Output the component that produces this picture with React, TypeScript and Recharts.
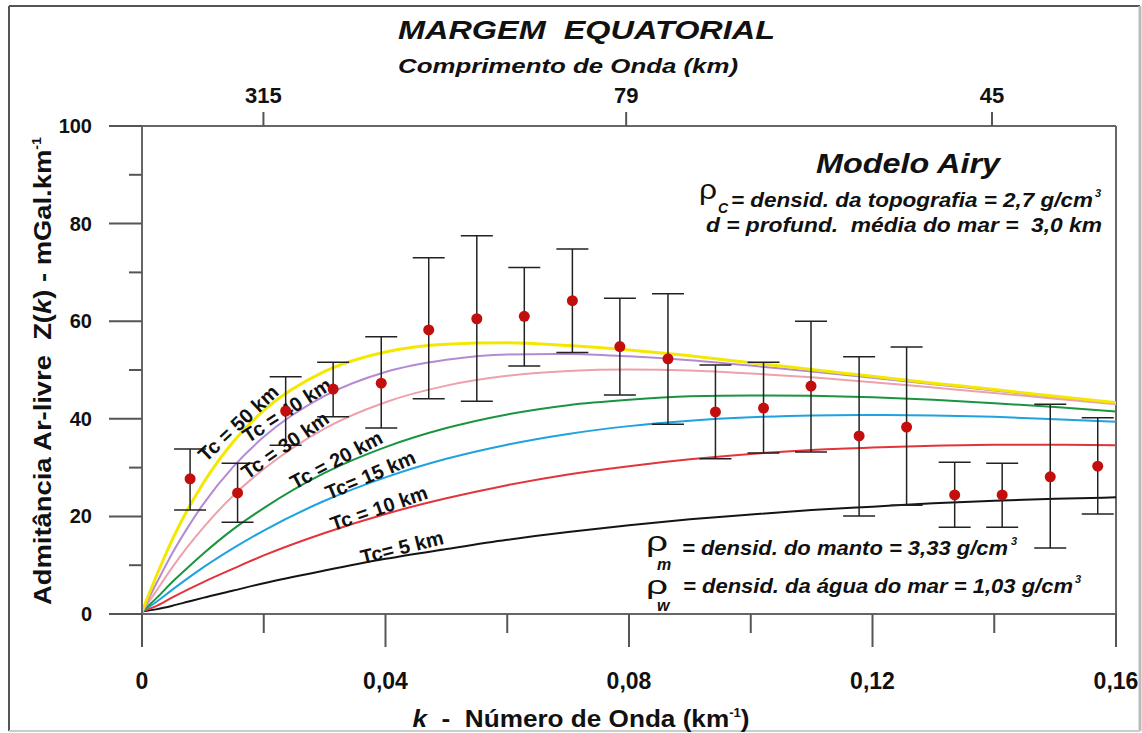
import React from 'react';
import {
  ComposedChart,
  Line,
  Scatter,
  ErrorBar,
  XAxis,
  YAxis,
  ReferenceLine,
  ReferenceDot,
} from 'recharts';

// wavenumber samples for the model curves (km^-1)
const kSamples = [0, 0.0025, 0.005, 0.0075, 0.01, 0.015, 0.02, 0.03, 0.04, 0.05, 0.06, 0.07, 0.08, 0.09, 0.1, 0.11, 0.12, 0.13, 0.14, 0.15, 0.16];

// Airy model admittance (mGal/km), one array per crustal thickness
const tc50 = [0.5, 8.2, 15.3, 21.4, 26.7, 35.3, 41.7, 49.7, 53.7, 55.3, 55.6, 55.0, 54.1, 52.9, 51.5, 50.1, 48.7, 47.3, 46.0, 44.6, 43.3];
const tc40 = [0.5, 6.6, 12.5, 17.7, 22.4, 30.2, 36.3, 44.7, 49.6, 52.1, 53.2, 53.3, 52.8, 52.0, 50.9, 49.7, 48.4, 47.1, 45.8, 44.5, 43.2];
const tc30 = [0.5, 5.0, 9.6, 13.8, 17.6, 24.3, 29.7, 38.0, 43.4, 46.8, 48.8, 49.8, 50.1, 49.9, 49.3, 48.5, 47.5, 46.4, 45.3, 44.1, 43.0];
const tc20 = [0.5, 3.4, 6.6, 9.5, 12.3, 17.4, 21.7, 28.9, 34.2, 38.1, 40.9, 42.8, 43.9, 44.6, 44.8, 44.7, 44.4, 43.9, 43.2, 42.4, 41.5];
const tc15 = [0.5, 2.6, 5.0, 7.3, 9.5, 13.5, 17.1, 23.2, 28.0, 31.8, 34.7, 36.9, 38.5, 39.6, 40.3, 40.7, 40.8, 40.7, 40.4, 39.9, 39.4];
const tc10 = [0.5, 1.7, 3.4, 5.0, 6.5, 9.3, 12.0, 16.6, 20.5, 23.7, 26.4, 28.6, 30.3, 31.7, 32.8, 33.6, 34.1, 34.5, 34.7, 34.7, 34.6];
const tc5 = [0.5, 1.0, 1.7, 2.5, 3.3, 4.8, 6.3, 8.9, 11.3, 13.3, 15.2, 16.8, 18.2, 19.4, 20.4, 21.3, 22.0, 22.7, 23.2, 23.6, 23.9];

// observed admittance with error bars
const obsK = [0.0079, 0.0157, 0.0236, 0.0314, 0.0393, 0.0471, 0.055, 0.0628, 0.0707, 0.0785, 0.0864, 0.0942, 0.1021, 0.1099, 0.1178, 0.1256, 0.1335, 0.1413, 0.1492, 0.157];
const obsZ = [27.7, 24.8, 41.6, 46.1, 47.3, 58.2, 60.5, 61.0, 64.2, 54.8, 52.3, 41.4, 42.2, 46.7, 36.5, 38.3, 24.4, 24.4, 28.1, 30.3];
const obsHigh = [33.8, 30.9, 48.6, 51.6, 56.8, 73.0, 77.5, 71.0, 74.8, 64.7, 65.6, 51.0, 51.6, 60.0, 52.7, 54.7, 31.1, 30.9, 43.0, 40.2];
const obsLow = [21.3, 18.8, 34.6, 40.4, 38.1, 44.1, 43.6, 50.8, 53.6, 44.9, 38.9, 31.8, 33.0, 33.2, 20.1, 22.3, 17.8, 17.8, 13.5, 20.5];

const xTicks = [0, 0.02, 0.04, 0.06, 0.08, 0.1, 0.12, 0.14, 0.16];
const yTicks = [0, 10, 20, 30, 40, 50, 60, 70, 80, 90, 100];
const wavelengths = [315, 79, 45];

const tcLabels = ['Tc = 50 km', 'Tc = 40 km', 'Tc = 30 km', 'Tc = 20 km', 'Tc= 15 km', 'Tc = 10 km', 'Tc= 5 km'];
const labelK = [0.0158, 0.0238, 0.0235, 0.0319, 0.0375, 0.0389, 0.0427];
const labelZ = [39.1, 41.8, 34.6, 31.6, 28.5, 21.7, 13.7];
const labelAngle = [-43, -33, -35, -28, -23, -19, -14];

const curves = [
  { key: 'tc5', values: tc5, color: '#141414', width: 2 },
  { key: 'tc10', values: tc10, color: '#e2343a', width: 2 },
  { key: 'tc15', values: tc15, color: '#1ea2e0', width: 2 },
  { key: 'tc20', values: tc20, color: '#1b9440', width: 2 },
  { key: 'tc30', values: tc30, color: '#eda2ab', width: 2 },
  { key: 'tc40', values: tc40, color: '#b48ad2', width: 2 },
  { key: 'tc50', values: tc50, color: '#f4e800', width: 3 },
];

const curveRows = kSamples.map((k, i) => {
  const row: Record<string, number> = { k };
  curves.forEach((c) => {
    row[c.key] = c.values[i];
  });
  return row;
});

const obsRows = obsK.map((k, i) => ({
  k,
  z: obsZ[i],
  err: [obsZ[i] - obsLow[i], obsHigh[i] - obsZ[i]],
}));

const FONT = '"Liberation Sans", Arial, Helvetica, sans-serif';
const AXIS = '#666';
const TICK = '#555';

function fmtK(v: number) {
  return v === 0 ? '0' : v.toFixed(2).replace('.', ',');
}

function BottomTick(props: any) {
  const { x, y, payload } = props;
  const major = Math.round(payload.value * 100) % 4 === 0;
  return (
    <g>
      <line x1={x} y1={y} x2={x} y2={y + (major ? 33 : 19)} stroke={TICK} strokeWidth={2} />
      {major && (
        <text x={x} y={y + 75} textAnchor="middle" fontFamily={FONT} fontWeight="bold" fontSize={23} fill="#111">
          {fmtK(payload.value)}
        </text>
      )}
    </g>
  );
}

function LeftTick(props: any) {
  const { x, y, payload } = props;
  const major = payload.value % 20 === 0;
  return (
    <g>
      <line x1={x - (major ? 33 : 13)} y1={y} x2={x} y2={y} stroke={TICK} strokeWidth={2} />
      {major && (
        <text x={x - 50} y={y + 7} textAnchor="end" fontFamily={FONT} fontWeight="bold" fontSize={20} fill="#111">
          {payload.value}
        </text>
      )}
    </g>
  );
}

function TopTick(props: any) {
  const { x, y, payload } = props;
  return (
    <g>
      <line x1={x} y1={y - 14} x2={x} y2={y} stroke={TICK} strokeWidth={2} />
      <text x={x} y={y - 23} textAnchor="middle" fontFamily={FONT} fontWeight="bold" fontSize={22} fill="#111">
        {Math.round((2 * Math.PI) / payload.value)}
      </text>
    </g>
  );
}

function Dot(props: any) {
  return <circle cx={props.cx} cy={props.cy} r={5.5} fill="#c40d0d" />;
}

const bi = { fontFamily: FONT, fontWeight: 'bold' as const, fontStyle: 'italic' as const, fill: '#111' };

export default function App() {
  return (
    <div style={{ position: 'absolute', left: 0, top: 0, width: 1142, height: 733, background: '#fff' }}>
      <ComposedChart
        width={1142}
        height={733}
        data={curveRows}
        margin={{ top: 96, right: 26, bottom: 79, left: 82 }}
      >
        <XAxis
          dataKey="k"
          type="number"
          domain={[0, 0.16]}
          ticks={xTicks}
          interval={0}
          allowDataOverflow
          height={40}
          tickSize={0}
          tickMargin={0}
          tickLine={false}
          axisLine={{ stroke: AXIS, strokeWidth: 2 }}
          tick={<BottomTick />}
        />
        <XAxis
          xAxisId="top"
          dataKey="k"
          orientation="top"
          type="number"
          domain={[0, 0.16]}
          ticks={wavelengths.map((w) => (2 * Math.PI) / w)}
          interval={0}
          allowDataOverflow
          height={30}
          tickSize={0}
          tickMargin={0}
          tickLine={false}
          axisLine={{ stroke: AXIS, strokeWidth: 2 }}
          tick={<TopTick />}
        />
        <YAxis
          type="number"
          domain={[0, 100]}
          ticks={yTicks}
          interval={0}
          allowDataOverflow
          width={60}
          tickSize={0}
          tickMargin={0}
          tickLine={false}
          axisLine={{ stroke: AXIS, strokeWidth: 2 }}
          tick={<LeftTick />}
        />
        <ReferenceLine x={0.16} stroke={AXIS} strokeWidth={2} />
        {/* invisible series so the wavelength axis shares the wavenumber scale */}
        <Line
          xAxisId="top"
          dataKey="tc5"
          stroke="none"
          dot={false}
          activeDot={false}
          legendType="none"
          isAnimationActive={false}
        />
        {curves.map((c) => (
          <Line
            key={c.key}
            dataKey={c.key}
            type="monotone"
            stroke={c.color}
            strokeWidth={c.width}
            dot={false}
            activeDot={false}
            isAnimationActive={false}
          />
        ))}
        {tcLabels.map((t, i) => (
          <ReferenceDot
            key={t}
            x={labelK[i]}
            y={labelZ[i]}
            r={0}
            shape={(p: any) => (
              <text
                transform={`translate(${p.cx},${p.cy}) rotate(${labelAngle[i]})`}
                textAnchor="middle"
                dominantBaseline="central"
                fontFamily={FONT}
                fontWeight="bold"
                fontSize={20}
                fill="#111"
              >
                {t}
              </text>
            )}
          />
        ))}
        <Scatter data={obsRows} dataKey="z" shape={<Dot />} isAnimationActive={false}>
          <ErrorBar dataKey="err" direction="y" width={16} stroke="#222" strokeWidth={1.5} />
        </Scatter>
      </ComposedChart>

      <svg width={1142} height={733} style={{ position: 'absolute', left: 0, top: 0, pointerEvents: 'none' }}>
        {/* outer frame */}
        <line x1={9} y1={6} x2={1140} y2={6} stroke="#555" strokeWidth={2} />
        <line x1={9} y1={6} x2={9} y2={731} stroke="#555" strokeWidth={2} />
        <line x1={1140} y1={6} x2={1140} y2={731} stroke="#bbb" strokeWidth={3} />
        <line x1={9} y1={731} x2={1140} y2={731} stroke="#ccc" strokeWidth={2} />

        <text x={398} y={39} fontSize={25} textLength={377} lengthAdjust="spacingAndGlyphs" {...bi}>
          MARGEM{'\u00a0\u00a0'}EQUATORIAL
        </text>
        <text x={398} y={73} fontSize={20} textLength={340} lengthAdjust="spacingAndGlyphs" {...bi}>
          Comprimento de Onda (km)
        </text>

        <text x={816} y={173} fontSize={28} textLength={184} lengthAdjust="spacingAndGlyphs" {...bi}>
          Modelo Airy
        </text>
        <text x={699} y={199} fontSize={28} textLength={18} lengthAdjust="spacingAndGlyphs" fontFamily={FONT} fill="#111">ρ</text>
        <text x={718} y={213} fontSize={14} {...bi}>C</text>
        <text x={731} y={207} fontSize={20} textLength={362} lengthAdjust="spacingAndGlyphs" {...bi}>
          = densid. da topografia = 2,7 g/cm
        </text>
        <text x={1095} y={197} fontSize={11} {...bi}>3</text>
        <text x={706} y={232} fontSize={20} textLength={396} lengthAdjust="spacingAndGlyphs" {...bi}>
          d = profund.{'\u00a0'} média do mar ={'\u00a0'} 3,0 km
        </text>

        <text x={646} y={551} fontSize={28} textLength={22} lengthAdjust="spacingAndGlyphs" fontFamily={FONT} fill="#111">ρ</text>
        <text x={657} y={570} fontSize={16} {...bi}>m</text>
        <text x={682} y={555} fontSize={20} textLength={326} lengthAdjust="spacingAndGlyphs" {...bi}>
          = densid. do manto = 3,33 g/cm
        </text>
        <text x={1011} y={545} fontSize={11} {...bi}>3</text>
        <text x={646} y={594} fontSize={26} textLength={22} lengthAdjust="spacingAndGlyphs" fontFamily={FONT} fill="#111">ρ</text>
        <text x={657} y={611} fontSize={16} {...bi}>w</text>
        <text x={683} y={593} fontSize={20} textLength={390} lengthAdjust="spacingAndGlyphs" {...bi}>
          = densid. da água do mar = 1,03 g/cm
        </text>
        <text x={1075} y={583} fontSize={11} {...bi}>3</text>

        {/* y axis title */}
        <text
          transform="translate(51,371) rotate(-90)"
          textAnchor="middle"
          fontFamily={FONT}
          fontWeight="bold"
          fontSize={23}
          fill="#111"
          textLength={468}
          lengthAdjust="spacingAndGlyphs"
        >
          Admitância Ar-livre{'\u00a0\u00a0'}Z(<tspan fontStyle="italic">k</tspan>) - mGal.km
          <tspan fontSize={12} dy={-10}>-1</tspan>
        </text>

        {/* x axis title */}
        <text
          x={581}
          y={727}
          textAnchor="middle"
          fontFamily={FONT}
          fontWeight="bold"
          fontSize={24}
          fill="#111"
          textLength={337}
          lengthAdjust="spacingAndGlyphs"
        >
          <tspan fontStyle="italic">k</tspan>
          {'\u00a0 - \u00a0'}Número de Onda (km
          <tspan fontSize={12} dy={-10}>-1</tspan>
          <tspan dy={10}>)</tspan>
        </text>
      </svg>
    </div>
  );
}
